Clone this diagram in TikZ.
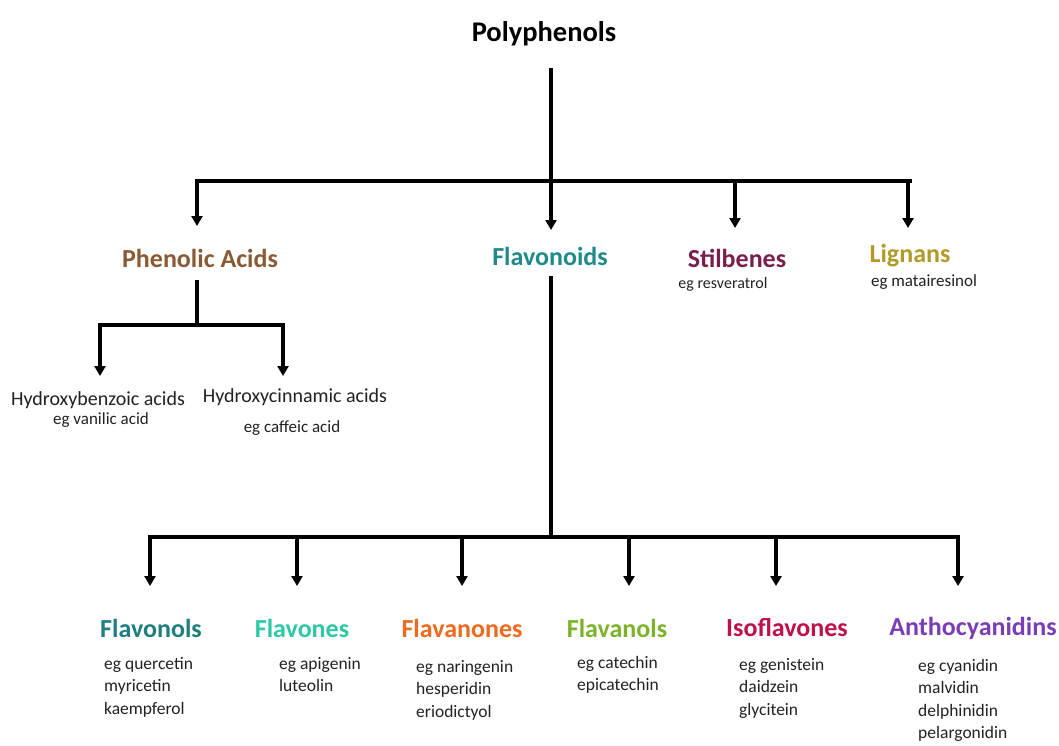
\documentclass[tikz,border=0pt]{standalone}
\usepackage{fontspec}
\setmainfont{Carlito}
\usetikzlibrary{arrows.meta}
\definecolor{cPA}{HTML}{8A5A34}
\definecolor{cFd}{HTML}{1E8A8A}
\definecolor{cSt}{HTML}{7A1E4E}
\definecolor{cLg}{HTML}{B09A28}
\definecolor{cFl}{HTML}{1F7E7E}
\definecolor{cFv}{HTML}{2FC7A6}
\definecolor{cFn}{HTML}{EE6A1E}
\definecolor{cFa}{HTML}{7DB32A}
\definecolor{cIs}{HTML}{C01048}
\definecolor{cAn}{HTML}{7B3DB5}
\definecolor{txt}{HTML}{222222}
\begin{document}
\begin{tikzpicture}[x=1pt,y=-1pt,
  line/.style={line width=3.2pt,draw=black},
  arr/.style={line width=3.2pt,draw=black,-{Triangle[length=10pt,width=11pt]}},
  head/.style={font=\bfseries\fontsize{26}{30}\selectfont,inner sep=0pt},
  sub/.style={font=\fontsize{17.5}{22.5}\selectfont,text=txt,inner sep=0pt,align=left,anchor=north west},
  csub/.style={font=\fontsize{17}{22}\selectfont,text=txt,inner sep=0pt,align=center},
  hsub/.style={font=\fontsize{20}{24}\selectfont,text=txt,inner sep=0pt,align=center}]
\useasboundingbox (0,0) rectangle (1059,746);
\fill[white] (0,0) rectangle (1059,746);
% top
\node[font=\bfseries\fontsize{28.5}{32}\selectfont,inner sep=0pt] (poly) at (544,34) {Polyphenols};
\node[head,text=cPA] (pa) at (200,258) {Phenolic Acids};
\node[head,text=cFd] (fd) at (550,256) {Flavonoids};
\node[head,text=cSt] (st) at (737,258) {Stilbenes};
\node[head,text=cLg] (lg) at (910,256) {Lignans};
\node[csub,font=\fontsize{16}{20}\selectfont] (stx) at (723,284) {eg resveratrol};
\node[csub] (lgx) at (924,282) {eg matairesinol};
\coordinate (t0) at (551,68);
\coordinate (tb) at (551,181);
\coordinate (tL) at (197,181);
\coordinate (tR) at (910,181);
\coordinate (tS) at (735,181);
\draw[line] (t0) -- (tb);
\draw[line,line cap=rect] (tL) -- (tR);
\coordinate (aPA) at (197,226);
\coordinate (aFd) at (551,230);
\coordinate (aSt) at (735,228);
\coordinate (aLg) at (908,228);
\draw[arr] (tL) -- (aPA);
\draw[arr] (tb) -- (aFd);
\draw[arr] (tS) -- (aSt);
\draw[arr] (908,181) -- (aLg);
% phenolic acids
\node[hsub] (hb) at (98,400) {Hydroxybenzoic acids};
\node[csub] (hbx) at (101,420) {eg vanilic acid};
\node[hsub] (hc) at (295,397) {Hydroxycinnamic acids};
\node[csub] (hcx) at (292,428) {eg caffeic acid};
\coordinate (p0) at (197,280);
\coordinate (pb) at (197,325);
\coordinate (pL) at (100,325);
\coordinate (pR) at (283,325);
\draw[line] (p0) -- (pb);
\draw[line,line cap=rect] (pL) -- (pR);
\coordinate (aHb) at (100,376);
\coordinate (aHc) at (283,376);
\draw[arr] (pL) -- (aHb);
\draw[arr] (pR) -- (aHc);
% flavonoids
\coordinate (f0) at (551,276);
\coordinate (fb) at (551,537);
\coordinate (fL) at (150,537);
\coordinate (fR) at (958,537);
\draw[line] (f0) -- (fb);
\draw[line,line cap=rect] (fL) -- (fR);
\node[head,text=cFl] (fl) at (151,628) {Flavonols};
\node[head,text=cFv] (fv) at (302,628) {Flavones};
\node[head,text=cFn] (fn) at (462,628) {Flavanones};
\node[head,text=cFa] (fa) at (617,628) {Flavanols};
\node[head,text=cIs] (is) at (787,628) {Isoflavones};
\node[head,text=cAn] (an) at (973,628) {Anthocyanidins};
\foreach \x/\n in {150/1,297/2,462/3,629/4,776/5,958/6}{
  \coordinate (b\n) at (\x,537);
  \coordinate (e\n) at (\x,586);
  \draw[arr] (b\n) -- (e\n);
}
\node[sub] (flx) at (104,657) {eg quercetin\\myricetin\\kaempferol};
\node[sub] (fvx) at (279,657) {eg apigenin\\luteolin};
\node[sub] (fnx) at (416,660) {eg naringenin\\hesperidin\\eriodictyol};
\node[sub] (fax) at (577,656) {eg catechin\\epicatechin};
\node[sub] (isx) at (739,658) {eg genistein\\daidzein\\glycitein};
\node[sub] (anx) at (918,659) {eg cyanidin\\malvidin\\delphinidin\\pelargonidin};
\end{tikzpicture}
\end{document}
